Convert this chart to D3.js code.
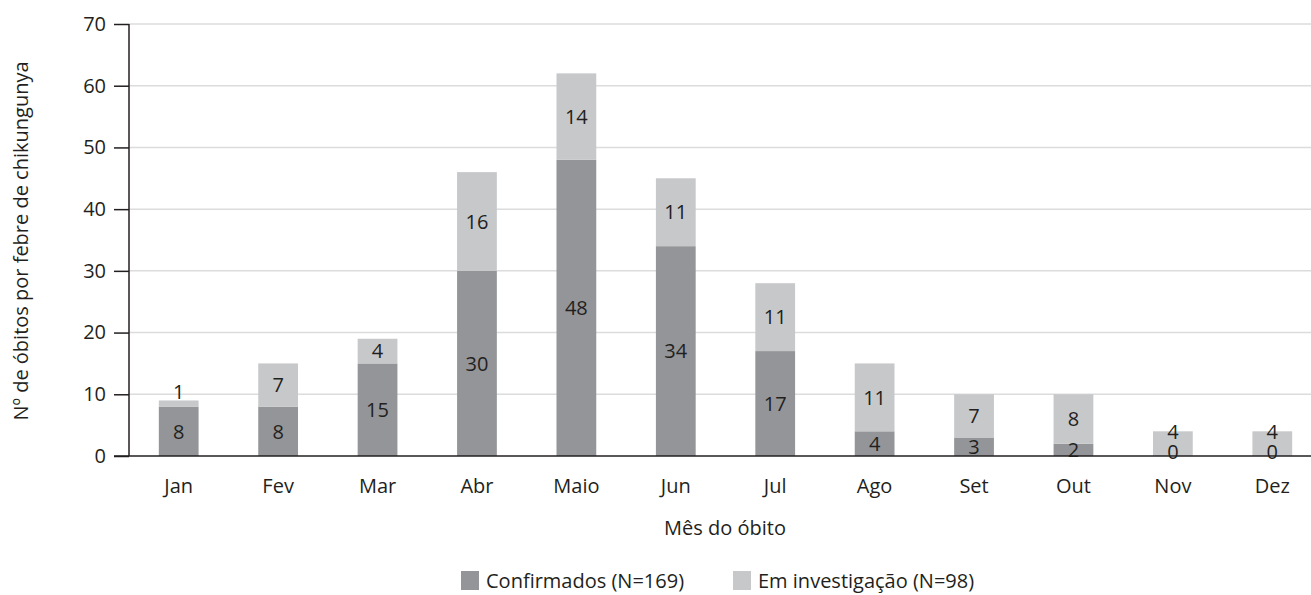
<!DOCTYPE html>
<html><head><meta charset="utf-8">
<script src="https://cdn.jsdelivr.net/npm/d3@7"></script>
<style>
body{margin:0;background:#fff;}
svg text{font-family:"Open Sans","Noto Sans",sans-serif;fill:#231f20;}
</style></head>
<body><svg id="c" width="1311" height="595"></svg>
<script>
const months = ["Jan","Fev","Mar","Abr","Maio","Jun","Jul","Ago","Set","Out","Nov","Dez"];
const confirmados = [8,8,15,30,48,34,17,4,3,2,0,0];
const investigacao = [1,7,4,16,14,11,11,11,7,8,4,4];
const yTicks = [0,10,20,30,40,50,60,70];
const seriesNames = ["Confirmados (N=169)","Em investigação (N=98)"];
const colors = ["#939598","#c7c8ca"];

const svg = d3.select("#c");
const fs = 20;
const x = d3.scaleBand().domain(months).range([129, 1322]).paddingInner(0.6).paddingOuter(0.3);
const y = d3.scaleLinear().domain([0,70]).range([456, 24]);

// gridlines
svg.append("g").selectAll("line").data(yTicks.filter(d=>d>0)).join("line")
  .attr("x1",129).attr("x2",1311).attr("y1",d=>y(d)).attr("y2",d=>y(d))
  .attr("stroke","#dcdcdc").attr("stroke-width",1.5);

// bars
const data = months.map((m,i)=>({m, c:confirmados[i], v:investigacao[i]}));
const g = svg.append("g");
g.selectAll("rect.c").data(data).join("rect").attr("class","c")
  .attr("x",d=>x(d.m)).attr("width",x.bandwidth())
  .attr("y",d=>y(d.c)).attr("height",d=>y(0)-y(d.c)).attr("fill",colors[0]);
g.selectAll("rect.v").data(data).join("rect").attr("class","v")
  .attr("x",d=>x(d.m)).attr("width",x.bandwidth())
  .attr("y",d=>y(d.c+d.v)).attr("height",d=>y(d.c)-y(d.c+d.v)).attr("fill",colors[1]);

// labels
data.forEach(d=>{
  const cx = x(d.m)+x.bandwidth()/2;
  let cy1 = d.c>0 ? (y(0)+y(d.c))/2 : y(0)-4;
  const segH = y(d.c)-y(d.c+d.v);
  let cy2 = segH < 12 ? y(d.c+d.v)-9 : (y(d.c)+y(d.c+d.v))/2;
  if (cy1 - cy2 < 20) cy2 = cy1 - 20;
  g.append("text").attr("x",cx).attr("y",cy1).attr("dy","0.36em").attr("text-anchor","middle").attr("font-size",fs).text(d.c);
  g.append("text").attr("x",cx).attr("y",cy2).attr("dy","0.36em").attr("text-anchor","middle").attr("font-size",fs).text(d.v);
});

// y axis
const ya = svg.append("g").attr("transform","translate(129,0)")
  .call(d3.axisLeft(y).tickValues(yTicks).tickSize(15).tickPadding(8).tickFormat(d3.format("d")));
ya.select(".domain").attr("stroke","#231f20").attr("stroke-width",1.5).attr("d","M0,"+y(70)+"V"+y(0));
ya.selectAll(".tick line").attr("stroke","#231f20").attr("stroke-width",1.5);
ya.selectAll("text").attr("font-size",fs).attr("font-family",null).attr("fill","#231f20");

// x axis
const xa = svg.append("g").attr("transform","translate(0,"+y(0)+")")
  .call(d3.axisBottom(x).tickSize(0).tickPadding(23));
xa.select(".domain").attr("stroke","#231f20").attr("stroke-width",1.5).attr("d","M114,0H1311");
xa.selectAll("text").attr("font-size",fs).attr("font-family",null).attr("fill","#231f20");

// axis titles
svg.append("text").attr("transform","translate(28,241) rotate(-90)").attr("text-anchor","middle")
  .attr("font-size",fs).text("Nº de óbitos por febre de chikungunya");
svg.append("text").attr("x",725).attr("y",535).attr("text-anchor","middle").attr("font-size",fs).text("Mês do óbito");

// legend
const lx = [461, 733];
seriesNames.forEach((s,i)=>{
  svg.append("rect").attr("x",lx[i]).attr("y",571).attr("width",18).attr("height",19).attr("fill",colors[i]);
  svg.append("text").attr("x",lx[i]+25).attr("y",588).attr("font-size",fs).text(s);
});
</script></body></html>
